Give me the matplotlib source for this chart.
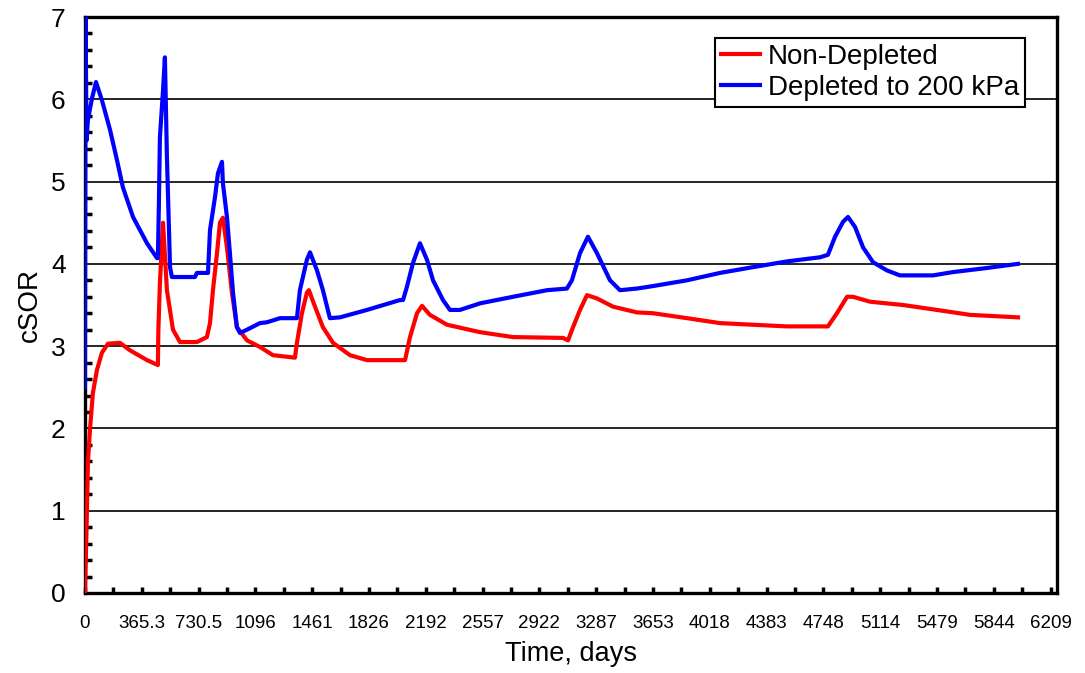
import matplotlib
matplotlib.use("Agg")
import matplotlib.pyplot as plt
from matplotlib.ticker import MultipleLocator, FixedLocator
import numpy as np

plt.rcParams['font.family'] = ['Liberation Sans', 'DejaVu Sans']

# time in days, cSOR values
t_nondep = [0, 10, 19, 32, 51, 77, 109, 148, 225, 289, 399, 469, 472, 482, 502,
            527, 566, 611, 720, 784, 804, 823, 849, 868, 887, 913, 945, 977,
            1042, 1125, 1209, 1350, 1363, 1395, 1427, 1440, 1479, 1530, 1595,
            1704, 1813, 2058, 2090, 2135, 2167, 2218, 2328, 2540, 2752, 3074,
            3106, 3138, 3183, 3228, 3292, 3395, 3549, 3652, 3871, 4083, 4295,
            4514, 4777, 4835, 4900, 4938, 5048, 5260, 5478, 5691, 5999]
csor_nondep = [0.0, 0.77, 1.58, 1.98, 2.43, 2.71, 2.92, 3.03, 3.04, 2.95, 2.83,
               2.77, 3.2, 3.77, 4.5, 3.68, 3.2, 3.05, 3.05, 3.11, 3.28, 3.68,
               4.13, 4.5, 4.56, 4.2, 3.65, 3.23, 3.07, 2.99, 2.89, 2.86, 3.04,
               3.4, 3.65, 3.68, 3.48, 3.23, 3.04, 2.89, 2.83, 2.83, 3.11, 3.4,
               3.49, 3.38, 3.26, 3.17, 3.11, 3.1, 3.07, 3.23, 3.44, 3.62, 3.58,
               3.48, 3.41, 3.4, 3.34, 3.28, 3.26, 3.24, 3.24, 3.4, 3.6, 3.6,
               3.54, 3.5, 3.44, 3.38, 3.35]

t_dep = [0, 4, 10, 19, 45, 71, 109, 161, 206, 244, 309, 399, 463, 469, 475, 482,
         502, 514, 527, 547, 559, 707, 720, 791, 804, 836, 855, 881, 887, 913,
         932, 952, 977, 997, 1042, 1125, 1170, 1254, 1363, 1382, 1427, 1447,
         1492, 1530, 1575, 1640, 1813, 2025, 2045, 2070, 2109, 2154, 2199, 2238,
         2302, 2347, 2411, 2540, 2752, 2971, 3099, 3131, 3183, 3234, 3292, 3376,
         3440, 3549, 3652, 3871, 4083, 4295, 4514, 4726, 4777, 4823, 4874, 4906,
         4951, 5003, 5067, 5157, 5240, 5453, 5581, 5800, 5999]
csor_dep = [2.5, 7.0, 5.5, 5.75, 6.01, 6.21, 5.99, 5.63, 5.26, 4.93, 4.57, 4.25,
            4.07, 4.07, 4.69, 5.54, 6.11, 6.51, 5.3, 3.96, 3.84, 3.84, 3.89,
            3.89, 4.41, 4.81, 5.1, 5.24, 4.98, 4.57, 4.13, 3.65, 3.23, 3.16, 3.2,
            3.28, 3.29, 3.34, 3.34, 3.68, 4.05, 4.14, 3.92, 3.68, 3.34, 3.35,
            3.44, 3.56, 3.56, 3.72, 4.01, 4.25, 4.05, 3.8, 3.56, 3.44, 3.44, 3.52,
            3.6, 3.68, 3.7, 3.8, 4.13, 4.33, 4.13, 3.8, 3.68, 3.7, 3.73, 3.8,
            3.89, 3.96, 4.03, 4.08, 4.11, 4.33, 4.51, 4.57, 4.45, 4.2, 4.02,
            3.92, 3.86, 3.86, 3.9, 3.95, 4.0]

year = 365.25
xtick_vals = [year * k for k in range(18)]
xtick_labels = ['0', '365.3', '730.5', '1096', '1461', '1826', '2192', '2557',
                '2922', '3287', '3653', '4018', '4383', '4748', '5114', '5479',
                '5844', '6209']

fig = plt.figure(figsize=(10.85, 6.73), dpi=100)
ax = fig.add_axes([0.0783, 0.1189, 0.8959, 0.8558])

ax.plot(t_nondep, csor_nondep, color='#ff0000', lw=3.0, label='Non-Depleted', zorder=3)
ax.plot(t_dep, csor_dep, color='#0000ff', lw=3.0, label='Depleted to 200 kPa', zorder=3)

ax.set_xlim(0, 6250)
ax.set_ylim(0, 7)
ax.xaxis.set_major_locator(FixedLocator(xtick_vals))
ax.set_xticklabels(xtick_labels)
ax.xaxis.set_minor_locator(MultipleLocator(year / 2))
ax.yaxis.set_major_locator(MultipleLocator(1))
ax.yaxis.set_minor_locator(MultipleLocator(0.2))

ax.grid(axis='y', which='major', color='black', lw=1.2, zorder=1)
ax.tick_params(axis='x', which='both', direction='in', length=4, width=2.5,
               labelsize=13.5, pad=16)
ax.tick_params(axis='y', which='minor', direction='in', length=5, width=2.5)
ax.tick_params(axis='y', which='major', direction='in', length=0, labelsize=19, pad=14)

for s in ax.spines.values():
    s.set_linewidth(2.4)
    s.set_color('black')

ax.set_xlabel('Time, days', fontsize=19.5, labelpad=6)
ax.set_ylabel('cSOR', fontsize=20, labelpad=6)

leg = ax.legend(loc='upper right', bbox_to_anchor=(0.9447, 0.9435),
                bbox_transform=fig.transFigure, fontsize=20, frameon=True,
                fancybox=False, borderaxespad=0, handlelength=1.4,
                handletextpad=0.3, borderpad=0.2, labelspacing=0.2)
leg.get_frame().set_edgecolor('black')
leg.get_frame().set_linewidth(1.5)
leg.get_frame().set_alpha(1)

fig.savefig('out.png', dpi=100)
